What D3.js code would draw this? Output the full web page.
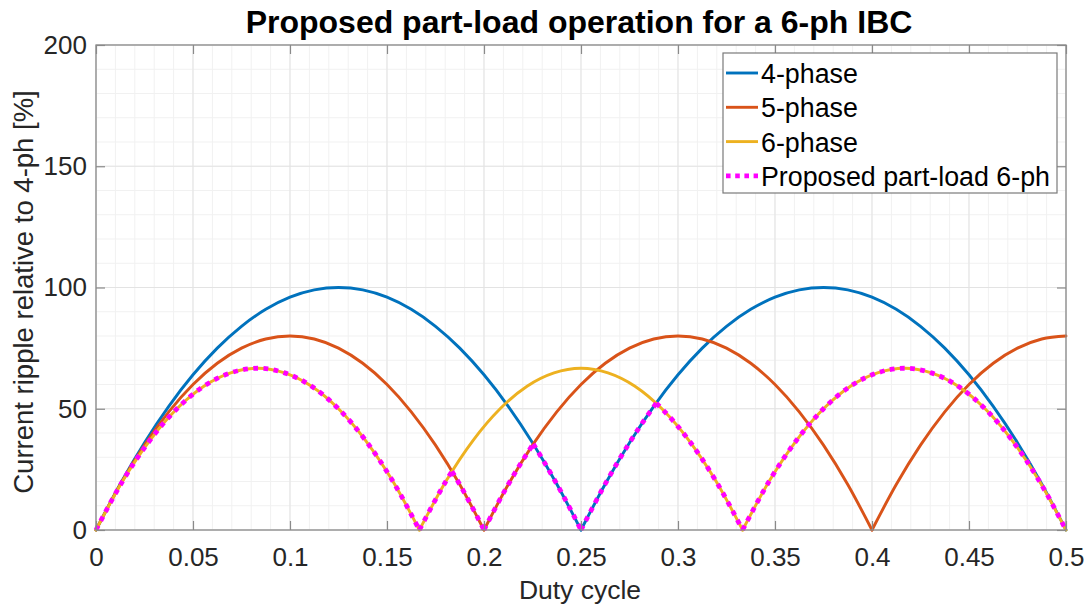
<!DOCTYPE html>
<html>
<head>
<meta charset="utf-8">
<script src="https://cdn.jsdelivr.net/npm/d3@7"></script>
<style>
  html, body { margin: 0; padding: 0; background: #fff; }
  svg { display: block; font-family: "Liberation Sans", Arial, Helvetica, sans-serif; }
</style>
</head>
<body>
<svg id="chart" width="1091" height="607"></svg>
<script>
// Duty-cycle samples shared by the 4- and 5-phase curves
const dutyA = [0, 0.0125, 0.025, 0.0375, 0.05, 0.0625, 0.075, 0.0875, 0.1, 0.1125,
  0.125, 0.1375, 0.15, 0.1625, 0.175, 0.1875, 0.2, 0.2125, 0.225, 0.2375,
  0.25, 0.2625, 0.275, 0.2875, 0.3, 0.3125, 0.325, 0.3375, 0.35, 0.3625,
  0.375, 0.3875, 0.4, 0.4125, 0.425, 0.4375, 0.45, 0.4625, 0.475, 0.4875, 0.5];

// Ripple relative to the 4-phase maximum [%]
const ripple4 = [0, 19, 36, 51, 64, 75, 84, 91, 96, 99,
  100, 99, 96, 91, 84, 75, 64, 51, 36, 19,
  0, 19, 36, 51, 64, 75, 84, 91, 96, 99,
  100, 99, 96, 91, 84, 75, 64, 51, 36, 19, 0];

const ripple5 = [0, 18.75, 35, 48.75, 60, 68.75, 75, 78.75, 80, 78.75,
  75, 68.75, 60, 48.75, 35, 18.75, 0, 18.75, 35, 48.75,
  60, 68.75, 75, 78.75, 80, 78.75, 75, 68.75, 60, 48.75,
  35, 18.75, 0, 18.75, 35, 48.75, 60, 68.75, 75, 78.75, 80];

// 6-phase curve, sampled on its own duty grid
const duty6 = [0, 0.0139, 0.0278, 0.0417, 0.0556, 0.0694, 0.0833, 0.0972, 0.1111, 0.125,
  0.1389, 0.1528, 0.1667, 0.1806, 0.1944, 0.2083, 0.2222, 0.2361, 0.25, 0.2639,
  0.2778, 0.2917, 0.3056, 0.3194, 0.3333, 0.3472, 0.3611, 0.375, 0.3889, 0.4028,
  0.4167, 0.4306, 0.4444, 0.4583, 0.4722, 0.4861, 0.5];

const ripple6 = [0, 20.4, 37.0, 50.0, 59.3, 64.8, 66.7, 64.8, 59.3, 50.0,
  37.0, 20.4, 0, 20.4, 37.0, 50.0, 59.3, 64.8, 66.7, 64.8,
  59.3, 50.0, 37.0, 20.4, 0, 20.4, 37.0, 50.0, 59.3, 64.8,
  66.7, 64.8, 59.3, 50.0, 37.0, 20.4, 0];

// Proposed part-load operation of the 6-phase converter
const dutyPL = [0, 0.0139, 0.0278, 0.0417, 0.0556, 0.0694, 0.0833, 0.0972, 0.1111, 0.125,
  0.1389, 0.1528, 0.1667, 0.1806, 0.1835, 0.1875, 0.19, 0.195, 0.2, 0.205,
  0.2125, 0.22, 0.2254, 0.23, 0.2375, 0.24, 0.25, 0.2625, 0.275, 0.282,
  0.2888, 0.2917, 0.3056, 0.3194, 0.3333, 0.3472, 0.3611, 0.375, 0.3889, 0.4028,
  0.4167, 0.4306, 0.4444, 0.4583, 0.4722, 0.4861, 0.5];

const ripplePL = [0, 20.4, 37.0, 50.0, 59.3, 64.8, 66.7, 64.8, 59.3, 50.0,
  37.0, 20.4, 0, 20.4, 24.2, 18.75, 15.2, 7.8, 0, 7.8,
  18.75, 28.8, 35.5, 29.4, 19, 15.4, 0, 19, 36, 44.6,
  52.3, 50.0, 37.0, 20.4, 0, 20.4, 37.0, 50.0, 59.3, 64.8,
  66.7, 64.8, 59.3, 50.0, 37.0, 20.4, 0];

// Duty values where the part-load curve switches phase count
const partLoadSwitches = [0.1835, 0.2254, 0.2888];

const seriesNames = ["4-phase", "5-phase", "6-phase", "Proposed part-load 6-ph"];
const seriesColors = ["#0072BD", "#D95319", "#EDB120", "#FF00FF"];

const xTicks = [0, 0.05, 0.1, 0.15, 0.2, 0.25, 0.3, 0.35, 0.4, 0.45, 0.5];
const xTickLabels = ["0", "0.05", "0.1", "0.15", "0.2", "0.25", "0.3", "0.35", "0.4", "0.45", "0.5"];
const yTicks = [0, 50, 100, 150, 200];
const yTickLabels = ["0", "50", "100", "150", "200"];

const titleText = "Proposed part-load operation for a 6-ph IBC";
const xLabelText = "Duty cycle";
const yLabelText = "Current ripple relative to 4-ph [%]";

// ---- layout ----
const svg = d3.select("#chart");
const plot = { left: 96, right: 1066, top: 45, bottom: 530 };
const x = d3.scaleLinear().domain([0, 0.5]).range([plot.left, plot.right]);
const y = d3.scaleLinear().domain([0, 200]).range([plot.bottom, plot.top]);

// background
svg.append("rect").attr("width", 1091).attr("height", 607).attr("fill", "#fff");

// minor grid
const gGrid = svg.append("g");
const xMinor = d3.range(0, 51).map(i => i / 100);
const yMinor = d3.range(0, 21).map(i => i * 10);
gGrid.selectAll("line.xm").data(xMinor).join("line")
  .attr("x1", d => x(d)).attr("x2", d => x(d))
  .attr("y1", plot.top).attr("y2", plot.bottom)
  .attr("stroke", "#f1f1f1").attr("stroke-width", 1);
gGrid.selectAll("line.ym").data(yMinor).join("line")
  .attr("y1", d => y(d)).attr("y2", d => y(d))
  .attr("x1", plot.left).attr("x2", plot.right)
  .attr("stroke", "#f1f1f1").attr("stroke-width", 1);
// major grid
gGrid.selectAll("line.xM").data(xTicks).join("line")
  .attr("x1", d => x(d)).attr("x2", d => x(d))
  .attr("y1", plot.top).attr("y2", plot.bottom)
  .attr("stroke", "#e3e3e3").attr("stroke-width", 1);
gGrid.selectAll("line.yM").data(yTicks).join("line")
  .attr("y1", d => y(d)).attr("y2", d => y(d))
  .attr("x1", plot.left).attr("x2", plot.right)
  .attr("stroke", "#e3e3e3").attr("stroke-width", 1);

// ---- curves ----
// Split a series into pieces at cusps (zero ripple) and at switch points,
// so each smooth arch is interpolated on its own.
function pieces(xs, ys, breaks) {
  const out = [];
  let cur = [];
  xs.forEach((d, i) => {
    const p = [d, ys[i]];
    cur.push(p);
    const isBreak = (ys[i] === 0 && i > 0 && i < xs.length - 1) ||
      (breaks && breaks.includes(d));
    if (isBreak) { out.push(cur); cur = [p]; }
  });
  if (cur.length > 1) out.push(cur);
  return out;
}

const line = d3.line()
  .x(d => x(d[0]))
  .y(d => y(d[1]))
  .curve(d3.curveMonotoneX);

const gLines = svg.append("g").attr("fill", "none").attr("stroke-linejoin", "round");

function drawSeries(xs, ys, color, opts) {
  const g = gLines.append("g");
  g.selectAll("path").data(pieces(xs, ys, opts.breaks)).join("path")
    .attr("d", line)
    .attr("stroke", color)
    .attr("stroke-width", opts.width)
    .attr("stroke-dasharray", opts.dash || null)
    .attr("stroke-linecap", opts.cap || "round");
}

drawSeries(dutyA, ripple4, seriesColors[0], { width: 2.9 });
drawSeries(dutyA, ripple5, seriesColors[1], { width: 2.9 });
drawSeries(duty6, ripple6, seriesColors[2], { width: 2.9 });
drawSeries(dutyPL, ripplePL, seriesColors[3], { width: 4.8, dash: "4.8 5.4", cap: "butt", breaks: partLoadSwitches });

// ---- axes ----
const tickLen = 9;
const axisColor = "#8a8a8a";
const textColor = "#262626";

const xAxis = d3.axisBottom(x).tickValues(xTicks)
  .tickFormat((d, i) => xTickLabels[i]).tickSize(-tickLen).tickSizeOuter(0).tickPadding(18);
const xAxisTop = d3.axisTop(x).tickValues(xTicks)
  .tickFormat("").tickSize(-tickLen).tickSizeOuter(0);
const yAxis = d3.axisLeft(y).tickValues(yTicks)
  .tickFormat((d, i) => yTickLabels[i]).tickSize(-tickLen).tickSizeOuter(0).tickPadding(9);
const yAxisRight = d3.axisRight(y).tickValues(yTicks)
  .tickFormat("").tickSize(-tickLen).tickSizeOuter(0);

function styleAxis(g) {
  g.select(".domain").remove();
  g.selectAll(".tick line").attr("stroke", axisColor).attr("stroke-width", 1.2);
  g.selectAll(".tick text").attr("fill", textColor).attr("font-size", 26)
    .attr("font-family", "Liberation Sans, Arial, sans-serif");
}

svg.append("g").attr("transform", `translate(0,${plot.bottom})`).call(xAxis).call(styleAxis);
svg.append("g").attr("transform", `translate(0,${plot.top})`).call(xAxisTop).call(styleAxis);
svg.append("g").attr("transform", `translate(${plot.left},0)`).call(yAxis).call(styleAxis);
svg.append("g").attr("transform", `translate(${plot.right},0)`).call(yAxisRight).call(styleAxis);

// axes box
svg.append("rect")
  .attr("x", plot.left).attr("y", plot.top)
  .attr("width", plot.right - plot.left).attr("height", plot.bottom - plot.top)
  .attr("fill", "none").attr("stroke", axisColor).attr("stroke-width", 1.3);

// ---- labels ----
svg.append("text")
  .attr("x", 579).attr("y", 33)
  .attr("text-anchor", "middle").attr("font-size", 32).attr("font-weight", "bold")
  .attr("fill", "#000").text(titleText);

svg.append("text")
  .attr("x", 580).attr("y", 599)
  .attr("text-anchor", "middle").attr("font-size", 26.5)
  .attr("fill", textColor).text(xLabelText);

svg.append("text")
  .attr("transform", `translate(33,292) rotate(-90)`)
  .attr("text-anchor", "middle").attr("font-size", 27.5)
  .attr("fill", textColor).text(yLabelText);

// ---- legend ----
const legend = svg.append("g");
legend.append("rect")
  .attr("x", 723).attr("y", 53).attr("width", 334).attr("height", 140)
  .attr("fill", "#fff").attr("stroke", "#7a7a7a").attr("stroke-width", 1.2);

const rowY = i => 83 + i * 34.3;
seriesNames.forEach((name, i) => {
  const ly = rowY(i) - 10;
  const dotted = i === 3;
  legend.append("line")
    .attr("x1", 726).attr("x2", 758).attr("y1", ly).attr("y2", ly)
    .attr("stroke", seriesColors[i])
    .attr("stroke-width", dotted ? 4.8 : 2.9)
    .attr("stroke-dasharray", dotted ? "4.6 4.6" : null);
  legend.append("text")
    .attr("x", 761).attr("y", rowY(i))
    .attr("font-size", 26.8).attr("fill", "#000").text(name);
});
</script>
</body>
</html>
